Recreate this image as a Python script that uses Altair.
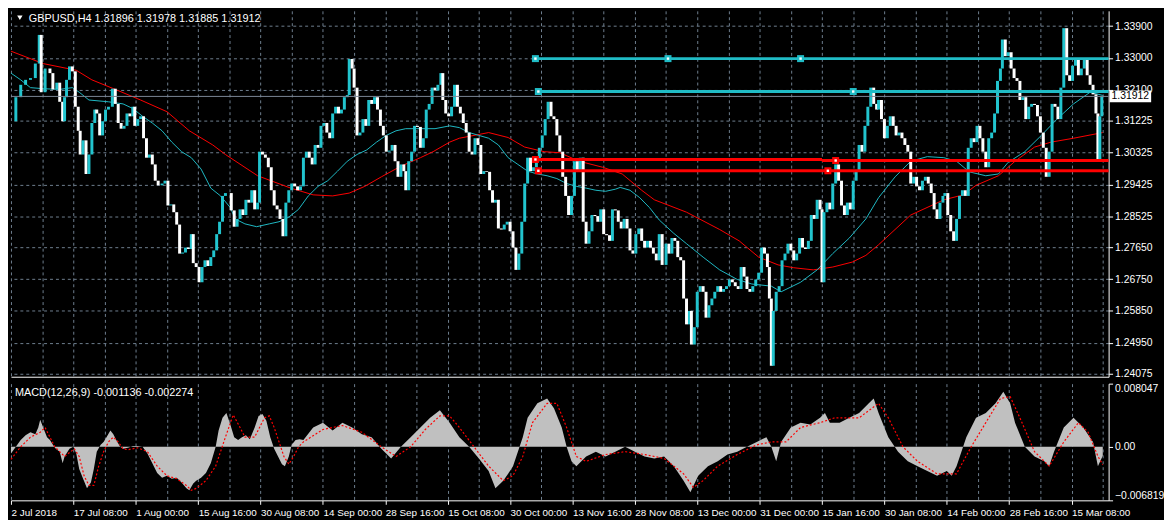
import altair as alt
import pandas as pd
import numpy as np

# ---------------- price data (bar index, close) ----------------
seg1_bar = [0,5,10,15,20,25,29,31,35,40,43,47,50,53,55,57,60,63,66,69,71,74,77,80,83,86,88,91,94,97,100,104,107,110,113,116,119,122,125,127,130,133,136,139,142,145,148,151,155,158,161,164,167,170,173,176,179,182,185,187,190,193,196,199,202,205,208,211,214,217,220,223,226,229]
seg1_close = [1.3121,1.3189,1.3224,1.3238,1.3243,1.3284,1.3365,1.3203,1.3270,1.3257,1.3211,1.3230,1.3176,1.3121,1.3189,1.3238,1.3276,1.3262,1.3162,1.3094,1.3027,1.3067,1.2972,1.3027,1.3116,1.3154,1.3143,1.3081,1.3121,1.3154,1.3162,1.3213,1.3170,1.3116,1.3100,1.3108,1.3143,1.3135,1.3162,1.3108,1.3127,1.3135,1.3073,1.3018,1.3027,1.2999,1.2953,1.2940,1.2945,1.2953,1.2883,1.2886,1.2864,1.2829,1.2747,1.2750,1.2764,1.2760,1.2802,1.2720,1.2709,1.2666,1.2709,1.2728,1.2712,1.2737,1.2756,1.2802,1.2837,1.2910,1.2918,1.2918,1.2869,1.2823]
seg2_bar = [232,235,238,241,244,247,250,253,255,258,261,264,267,270,273,276,279,282,285,288,291,294,297,300,303,306,309,312,315,318,321,324,327,330,333,336,339,342,345,347,350,352,355,358,361,364,367,370,373,376,379,382,385,388,391,394,397,400,403,405,408,411,414,417,420,423,426,429,432,435,438,441]
seg2_close = [1.2845,1.2872,1.2856,1.2899,1.2891,1.2926,1.2872,1.2891,1.3035,1.3027,1.3018,1.2991,1.2926,1.2883,1.2872,1.2845,1.2796,1.2891,1.2926,1.2945,1.2937,1.2926,1.2937,1.3018,1.3035,1.3018,1.2999,1.3054,1.3046,1.3108,1.3116,1.3089,1.3073,1.3143,1.3162,1.3143,1.3154,1.3189,1.3195,1.3297,1.3270,1.3216,1.3081,1.3089,1.3127,1.3108,1.3181,1.3170,1.3189,1.3154,1.3108,1.3081,1.3035,1.3038,1.3054,1.3008,1.2964,1.2999,1.2980,1.2926,1.3008,1.3035,1.3108,1.3105,1.3046,1.3073,1.3154,1.3170,1.3216,1.3208,1.3224,1.3257]
seg3_bar = [443,446,449,452,455,458,461,464,467,470,473,476,479,482,485,488,491,494,497,500,503,506,509,512,515,518,521,524,527,530,533,536,539,542,545,548,551,554,557,560,563,566,569,572,575,578,581,584,587,590,593,596,599,602,605,608,611,614,617,620,623,626,629,632,635,638,641,644,647,650,653,656,659,662,665,668,672,675,678,681,684,687]
seg3_close = [1.3181,1.3143,1.3135,1.3162,1.3224,1.3162,1.3143,1.3116,1.3089,1.3035,1.3027,1.3073,1.3054,1.2972,1.2980,1.2978,1.2926,1.2891,1.2899,1.2818,1.2815,1.2829,1.2837,1.2810,1.2764,1.2701,1.2747,1.2837,1.2945,1.3018,1.2980,1.2991,1.3008,1.3046,1.3081,1.3127,1.3176,1.3135,1.3127,1.3081,1.3035,1.2964,1.2910,1.2856,1.2910,1.3008,1.2980,1.3018,1.2837,1.2775,1.2810,1.2856,1.2853,1.2837,1.2872,1.2802,1.2799,1.2783,1.2872,1.2869,1.2837,1.2818,1.2845,1.2818,1.2756,1.2747,1.2802,1.2818,1.2783,1.2764,1.2783,1.2764,1.2747,1.2728,1.2802,1.2715,1.2775,1.2747,1.2791,1.2783,1.2737,1.2728]
seg4_bar = [690,693,696,698,701,704,707,710,713,716,719,722,725,728,731,734,737,740,743,746,749,752,755,758,761,764,767,770,773,776,778,780,782,785,788,791,794,797,800,803,806,809,812,815,818,821,824,827,830,832,834,837,840,843,846,849,852,855,858,861,864,867,870,873,876,879,882,885,888]
seg4_close = [1.2620,1.2547,1.2585,1.2490,1.2539,1.2639,1.2655,1.2639,1.2566,1.2601,1.2620,1.2639,1.2655,1.2639,1.2647,1.2655,1.2674,1.2666,1.2655,1.2647,1.2709,1.2682,1.2647,1.2639,1.2655,1.2674,1.2693,1.2764,1.2747,1.2709,1.2620,1.2430,1.2585,1.2639,1.2655,1.2728,1.2747,1.2775,1.2756,1.2728,1.2747,1.2791,1.2764,1.2760,1.2783,1.2856,1.2845,1.2899,1.2872,1.2666,1.2864,1.2891,1.2872,1.2945,1.2999,1.2953,1.2883,1.2856,1.2891,1.2872,1.2953,1.2980,1.3054,1.3035,1.3108,1.3162,1.3216,1.3170,1.3154]
seg5_bar = [890,893,896,899,902,905,908,911,914,917,920,923,926,929,932,935,938,941,944,947,950,953,956,958,961,964,967,970,973,976,979,982,985,988,991,994,997,1000,1003,1006,1009,1012,1015,1017,1020,1023,1026,1029,1032,1035,1038,1041,1044,1047,1050,1053,1056,1059,1062,1065,1068,1071,1074,1077,1080,1083,1086,1089,1092,1095,1098,1101,1104,1107,1110,1113,1115,1117,1119]
seg5_close = [1.3181,1.3127,1.3073,1.3108,1.3135,1.3108,1.3081,1.3089,1.3073,1.3054,1.3035,1.2945,1.2964,1.2937,1.2926,1.2953,1.2964,1.2945,1.2918,1.2872,1.2845,1.2891,1.2910,1.2918,1.2856,1.2810,1.2783,1.2845,1.2910,1.2926,1.2910,1.3046,1.3073,1.3062,1.3108,1.3073,1.3035,1.2991,1.3073,1.3089,1.3143,1.3235,1.3270,1.3352,1.3305,1.3316,1.3270,1.3243,1.3235,1.3181,1.3189,1.3127,1.3162,1.3170,1.3167,1.3135,1.3089,1.3046,1.2964,1.3035,1.3170,1.3162,1.3127,1.3216,1.3384,1.3251,1.3235,1.3278,1.3297,1.3251,1.3270,1.3297,1.3251,1.3224,1.3197,1.3143,1.3013,1.3135,1.3191]

# moving averages
ma_fast_bar = [0,10,20,33,50,63,70,80,100,115,125,135,145,155,165,175,185,195,205,215,225,230,240,252,265,275,285,295,305,315,325,335,345,355,365,375,385,395,405,420,435,450,460,470,480,490,500,510,520,530,540,550,560,570,580,590,600,610,620,625,635,645,655,665,680,693,710,727,745,760,780,790,810,827,843,860,877,890,907,923,940,957,970,983,1000,1013,1023,1040,1057,1073,1090,1107,1120]
ma_fast_val = [1.3257,1.3238,1.3216,1.3213,1.3211,1.3216,1.3203,1.3181,1.3176,1.3170,1.3157,1.3135,1.3116,1.3094,1.3062,1.3035,1.3018,1.2986,1.2932,1.2910,1.2877,1.2845,1.2831,1.2823,1.2831,1.2837,1.2850,1.2872,1.2910,1.2937,1.2953,1.2980,1.3008,1.3027,1.3040,1.3062,1.3081,1.3094,1.3100,1.3100,1.3100,1.3108,1.3103,1.3089,1.3081,1.3073,1.3054,1.3018,1.2999,1.2980,1.2972,1.2967,1.2959,1.2945,1.2937,1.2932,1.2926,1.2923,1.2929,1.2934,1.2926,1.2905,1.2877,1.2842,1.2804,1.2775,1.2737,1.2701,1.2674,1.2661,1.2655,1.2639,1.2666,1.2701,1.2747,1.2791,1.2845,1.2905,1.2964,1.3008,1.3021,1.3018,1.3008,1.2978,1.2967,1.2972,1.3005,1.3035,1.3081,1.3127,1.3170,1.3203,1.3194]
ma_slow_bar = [0,33,67,83,107,133,160,183,207,220,253,287,310,330,347,363,380,400,420,433,450,460,490,510,527,547,563,583,607,627,647,660,693,727,747,767,787,803,823,843,863,877,890,923,957,977,990,1013,1030,1050,1067,1090,1120]
ma_slow_val = [1.3319,1.3284,1.3265,1.3238,1.3211,1.3181,1.3148,1.3094,1.3054,1.3027,1.2967,1.2932,1.2913,1.2910,1.2918,1.2937,1.2964,1.2994,1.3018,1.3035,1.3062,1.3073,1.3089,1.3075,1.3048,1.3035,1.3032,1.3008,1.2991,1.2972,1.2926,1.2899,1.2864,1.2815,1.2783,1.2737,1.2715,1.2707,1.2701,1.2709,1.2723,1.2742,1.2772,1.2856,1.2899,1.2913,1.2940,1.2967,1.3008,1.3048,1.3062,1.3073,1.3089]

# horizontal trend lines
line_start = [538, 541, 538, 832, 541]
line_end = [1126, 1126, 832, 1126, 1126]
line_price = [1.3298, 1.3205, 1.3013, 1.3010, 1.2981]
line_color = ["#20BCC6", "#20BCC6", "#FF0000", "#FF0000", "#FF0000"]
handle_bar = [538, 674, 810, 541, 864, 538, 846, 541, 838]
handle_price = [1.3298, 1.3298, 1.3298, 1.3205, 1.3205, 1.3013, 1.3010, 1.2981, 1.2981]
handle_color = ["#20BCC6"] * 5 + ["#FF0000"] * 4
bid_price = 1.31912

# MACD
hist_bar = [0,5,10,15,20,25,28,30,33,37,40,43,46,50,53,55,60,64,67,70,74,78,82,85,88,92,95,98,102,105,108,112,115,120,125,130,135,140,145,150,155,160,165,170,175,180,183,187,190,195,200,205,210,213,217,221,225,229,233,237,241,245,250,254,258,262,266,270,274,278,281,285,288,292,296,300,310,320,330,340,350,360,370,380,390,400,410,420,430,440,450,460,470,480,490,497,505,510,515,520,525,530,540,550,557,565,570,575,580,590,600,610,620,630,640,650,660,670,680,690,697,705,715,725,735,745,755,765,775,780,785,790,800,810,820,830,835,840,850,860,870,880,885,890,900,910,920,930,940,950,960,965,970,975,980,990,1000,1010,1018,1025,1030,1040,1050,1060,1065,1070,1080,1090,1100,1110,1115,1120]
hist_val = [-0.00086,0.0,0.00086,0.00148,0.00185,0.00160,0.00246,0.00344,0.00246,0.00123,0.00086,0.00025,-0.00025,-0.00062,-0.00209,-0.00123,-0.00025,0.0,-0.00086,-0.00283,-0.00406,-0.00529,-0.00455,-0.00283,-0.00062,0.00025,0.00062,0.00123,0.00209,0.00160,0.00086,0.0,-0.00025,-0.00012,0.00012,0.00012,0.0,-0.00086,-0.00209,-0.00332,-0.00394,-0.00369,-0.00406,-0.00394,-0.00455,-0.00529,-0.00554,-0.00467,-0.00431,-0.00394,-0.00332,-0.00209,0.0,0.00209,0.00369,0.00431,0.00283,0.00123,0.00086,0.00123,0.00148,0.00098,0.00246,0.00394,0.00418,0.00332,0.00123,-0.00025,-0.00123,-0.00221,-0.00246,-0.00123,0.00025,0.00086,0.00098,0.00086,0.00246,0.00308,0.00209,0.00308,0.00246,0.00160,0.00123,-0.00025,-0.00148,0.0,0.00123,0.00246,0.00369,0.00467,0.00308,0.00123,0.0,-0.00148,-0.00308,-0.00529,-0.00431,-0.00344,-0.00246,-0.00062,0.00123,0.00369,0.00554,0.00615,0.00492,0.00246,0.0,-0.00185,-0.00246,-0.00123,-0.00062,-0.00123,-0.00062,0.0,-0.00062,-0.00123,-0.00148,-0.00123,-0.00246,-0.00431,-0.00578,-0.00369,-0.00246,-0.00185,-0.00098,-0.00062,0.0,0.00062,0.00123,0.0,-0.00185,0.00062,0.00246,0.00308,0.00283,0.00369,0.00431,0.00308,0.00308,0.00369,0.00431,0.00554,0.00615,0.00431,0.00123,-0.00062,-0.00185,-0.00246,-0.00308,-0.00369,-0.00308,-0.00369,-0.00246,-0.00062,0.00123,0.00369,0.00431,0.00554,0.00701,0.00554,0.00308,0.0,-0.00123,-0.00185,-0.00246,-0.00062,0.00246,0.00369,0.00246,0.00062,-0.00246,-0.00114]
sig_bar = [0,10,20,30,35,40,45,55,65,70,75,80,85,90,95,100,105,110,115,120,130,140,150,160,170,180,185,190,200,210,220,228,235,240,250,260,265,270,280,285,290,295,300,320,340,360,380,395,410,425,440,450,460,475,490,505,515,525,535,550,560,570,580,590,610,630,650,670,690,700,710,725,745,765,780,795,810,830,845,870,890,900,915,930,950,970,985,1000,1015,1025,1035,1050,1065,1080,1095,1105,1115,1120]
sig_val = [-0.00160,0.0,0.00123,0.00185,0.00246,0.00123,0.0,-0.00123,-0.00025,-0.00123,-0.00369,-0.00492,-0.00492,-0.00246,-0.00062,0.00062,0.00123,0.00062,-0.00025,-0.00037,-0.00012,-0.00062,-0.00246,-0.00369,-0.00406,-0.00492,-0.00554,-0.00529,-0.00431,-0.00246,0.00123,0.00406,0.00246,0.00123,0.00123,0.00369,0.00394,0.00246,-0.00123,-0.00221,-0.00123,0.0,0.00062,0.00221,0.00271,0.00185,0.0,-0.00123,0.0,0.00221,0.00394,0.00394,0.00246,0.0,-0.00246,-0.00431,-0.00369,-0.00123,0.00308,0.00554,0.00554,0.00246,-0.00123,-0.00185,-0.00098,-0.00062,-0.00098,-0.00148,-0.00344,-0.00517,-0.00431,-0.00246,-0.00098,0.00025,0.00062,0.00062,0.00246,0.00308,0.00369,0.00369,0.00554,0.00369,0.0,-0.00185,-0.00344,-0.00344,0.0,0.00308,0.00615,0.00640,0.00369,-0.00062,-0.00246,0.00062,0.00308,0.00185,-0.00120,-0.00227]

price_ticks = [1.33900, 1.33000, 1.32100, 1.31225, 1.30325, 1.29425, 1.28525, 1.27650, 1.26750, 1.25850, 1.24950, 1.24075]
date_labels = ["2 Jul 2018", "17 Jul 08:00", "1 Aug 00:00", "15 Aug 16:00", "30 Aug 08:00", "14 Sep 00:00",
               "28 Sep 16:00", "15 Oct 08:00", "30 Oct 00:00", "13 Nov 16:00", "28 Nov 08:00", "13 Dec 00:00",
               "31 Dec 00:00", "15 Jan 16:00", "30 Jan 08:00", "14 Feb 00:00", "28 Feb 16:00", "15 Mar 08:00"]
title_main = "GBPUSD,H4  1.31896 1.31978 1.31885 1.31912"
title_macd = "MACD(12,26,9) -0.001136 -0.002274"

# ---------------- build tables ----------------
bars = seg1_bar + seg2_bar + seg3_bar + seg4_bar + seg5_bar
closes = seg1_close + seg2_close + seg3_close + seg4_close + seg5_close
assert len(bars) == len(closes)
assert len(ma_fast_bar) == len(ma_fast_val)
assert len(ma_slow_bar) == len(ma_slow_val)
assert len(hist_bar) == len(hist_val)
assert len(sig_bar) == len(sig_val)

price_df = pd.DataFrame({"bar": bars, "price2": closes})
price_df["price"] = price_df["price2"].shift(1).fillna(price_df["price2"])
price_df["dir"] = np.where(price_df["price2"] >= price_df["price"], "up", "down")

fast_df = pd.DataFrame({"bar": ma_fast_bar, "price": ma_fast_val})
slow_df = pd.DataFrame({"bar": ma_slow_bar, "price": ma_slow_val})
lines_df = pd.DataFrame({"bar": line_start, "bar2": line_end, "price": line_price, "col": line_color})
handles_df = pd.DataFrame({"bar": handle_bar, "price": handle_price, "col": handle_color})
bid_df = pd.DataFrame({"bar": [0], "bar2": [1126], "price": [bid_price], "txt": ["1.31912"]})
hist_df = pd.DataFrame({"bar": hist_bar, "v": hist_val})
sig_df = pd.DataFrame({"bar": sig_bar, "v": sig_val})

W, H1, H2 = 1110, 370, 118
XDOM = [0, 1126]
GRID = "#6F7F90"
UP = "#22C4CE"
FONT = "Liberation Sans"
grid_vals = list(range(0, 1121, 32))

x_scale = alt.Scale(domain=XDOM, nice=False, zero=False)
x_main = alt.X("bar:Q", scale=x_scale,
               axis=alt.Axis(values=grid_vals, labels=False, ticks=False, domainColor="white",
                             grid=True, gridColor=GRID, gridDash=[3, 3], title=None))
y_main = alt.Y("price:Q", scale=alt.Scale(domain=[1.2399, 1.3433], nice=False, zero=False),
               axis=alt.Axis(orient="right", values=price_ticks, format=".5f", grid=True, gridColor=GRID,
                             gridDash=[3, 3], domainColor="white", tickColor="white", tickSize=4,
                             labelColor="white", labelPadding=2, labelFont=FONT, labelFontSize=10.5,
                             title=None))

base = alt.Chart(price_df)
slow_line = alt.Chart(slow_df).mark_line(color="#FF0000", strokeWidth=1).encode(x=x_main, y=y_main)
fast_line = alt.Chart(fast_df).mark_line(color="#1FB8C3", strokeWidth=1).encode(x=x_main, y=y_main)
bars_layer = base.mark_rule(strokeWidth=3).encode(
    x=x_main, y=y_main, y2="price2:Q",
    color=alt.Color("dir:N", scale=alt.Scale(domain=["up", "down"], range=[UP, "#FFFFFF"]), legend=None))
bid_line = alt.Chart(bid_df).mark_rule(color="#7A8696", strokeWidth=1).encode(x=x_main, x2="bar2:Q", y=y_main)
trend_lines = alt.Chart(lines_df).mark_rule(strokeWidth=3).encode(
    x=x_main, x2="bar2:Q", y=y_main, color=alt.Color("col:N", scale=None))
handles = alt.Chart(handles_df).mark_square(size=50, filled=True, opacity=1).encode(
    x=x_main, y=y_main, color=alt.Color("col:N", scale=None))
handles_in = alt.Chart(handles_df).mark_square(size=6, filled=True, opacity=1, color="white").encode(
    x=x_main, y=y_main)
bid_box = alt.Chart(bid_df).mark_rule(color="white", strokeWidth=12).encode(
    x=alt.value(W + 1), x2=alt.value(W + 43), y=y_main)
bid_text = alt.Chart(bid_df).mark_text(align="left", baseline="middle", color="black", font=FONT,
                                       fontSize=10.5).encode(x=alt.value(W + 3), y=y_main, text="txt:N")
tri = alt.Chart(bid_df).mark_point(shape="triangle-down", filled=True, color="white", size=30, opacity=1).encode(
    x=alt.value(9), y=alt.value(7))
ttl = alt.Chart(bid_df).mark_text(align="left", baseline="middle", color="white", font=FONT,
                                  fontSize=11).encode(x=alt.value(18), y=alt.value(8), text=alt.value(title_main))

main = alt.layer(slow_line, fast_line, bars_layer, bid_line, trend_lines, handles, handles_in,
                 bid_box, bid_text, tri, ttl).properties(width=W, height=H1)

lab_js = "[" + ",".join("'" + s + "'" for s in date_labels) + "]"
x_macd = alt.X("bar:Q", scale=x_scale,
               axis=alt.Axis(values=grid_vals,
                             labelExpr="datum.value % 64 == 0 ? " + lab_js + "[datum.value / 64] : ''",
                             labelAlign="left", labelFlush=False, labelOverlap=False, labelColor="white",
                             labelFont=FONT, labelFontSize=10, labelPadding=3,
                             tickColor="white", tickSize=4,
                             tickOpacity={"condition": {"test": "datum.value % 64 == 0", "value": 1}, "value": 0},
                             domainColor="white", grid=True, gridColor=GRID, gridDash=[3, 3], title=None))
y_macd = alt.Y("v:Q", scale=alt.Scale(domain=[-0.006819, 0.008047], nice=False, zero=False),
               axis=alt.Axis(orient="right", values=[0.008047, 0.0, -0.006819],
                             labelExpr="datum.value == 0 ? '0.00' : format(datum.value, '.6f')",
                             labelFlush=True, grid=False, domainColor="white", tickColor="white", tickSize=4,
                             labelColor="white", labelFont=FONT, labelFontSize=10.5, labelPadding=2, title=None))

hist = alt.Chart(hist_df).mark_area(color="#C0C0C0", opacity=1).encode(x=x_macd, y=y_macd, y2=alt.datum(0))
sig = alt.Chart(sig_df).mark_line(color="#FF0000", strokeWidth=1.2, strokeDash=[2, 2]).encode(x=x_macd, y=y_macd)
macd_ttl = alt.Chart(bid_df).mark_text(align="left", baseline="middle", color="white", font=FONT,
                                       fontSize=11).encode(x=alt.value(4), y=alt.value(9), text=alt.value(title_macd))
macd = alt.layer(hist, sig, macd_ttl).properties(width=W, height=H2)

chart = alt.vconcat(main, macd, spacing=3).properties(padding=0).configure(
    background="black", font=FONT).configure_view(strokeWidth=0)

chart.save("out.html", embed_options={"renderer": "svg", "actions": False})
